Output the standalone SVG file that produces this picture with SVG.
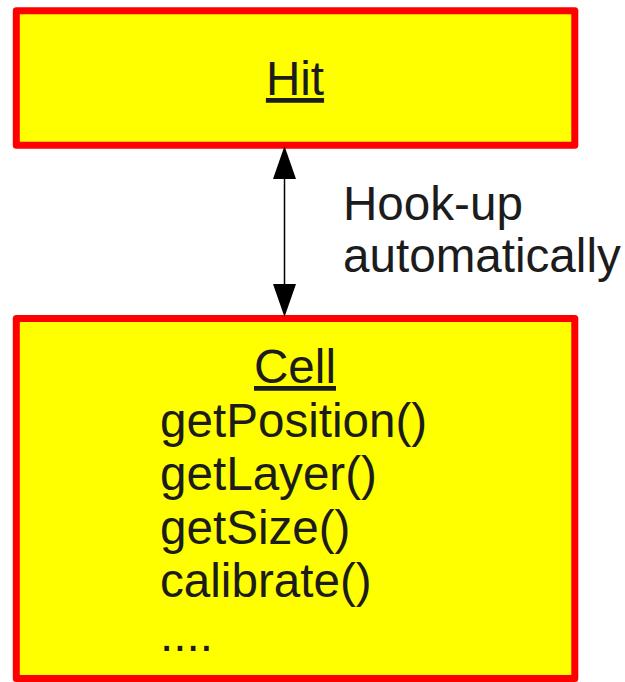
<svg xmlns="http://www.w3.org/2000/svg" width="625" height="682" viewBox="0 0 625 682">
  <style>
    .box { fill: #ffff00; stroke: #ff0000; stroke-width: 7; stroke-linejoin: round; }
    .lbl { font-family: "Liberation Sans", Arial, sans-serif; font-size: 47.6px; fill: #1c1c1c; }
    .title { text-anchor: middle; text-decoration: underline; }
    .link { stroke: #000; stroke-width: 1.5; fill: none; }
    .head { fill: #000; }
  </style>

  <g id="hit">
    <rect class="box" x="16.3" y="10.8" width="558.5" height="134.4"/>
    <text class="lbl title" x="295" y="95">Hit</text>
  </g>

  <g id="cell">
    <rect class="box" x="16.3" y="318.5" width="558.5" height="360"/>
    <text class="lbl title" x="295" y="383">Cell</text>
    <text class="lbl" x="160" y="437">getPosition()</text>
    <text class="lbl" x="160" y="490">getLayer()</text>
    <text class="lbl" x="160" y="544">getSize()</text>
    <text class="lbl" x="160" y="597">calibrate()</text>
    <text class="lbl" x="160" y="651">....</text>
  </g>

  <g id="connectors">
    <line class="link" x1="284.5" y1="175" x2="284.5" y2="288"/>
    <path class="head" d="M284.5 146 L296 179 L273 179 Z"/>
    <path class="head" d="M284.5 317 L296 284 L273 284 Z"/>
    <text class="lbl" x="343" y="220">Hook-up</text>
    <text class="lbl" x="343" y="272">automatically</text>
  </g>
</svg>
